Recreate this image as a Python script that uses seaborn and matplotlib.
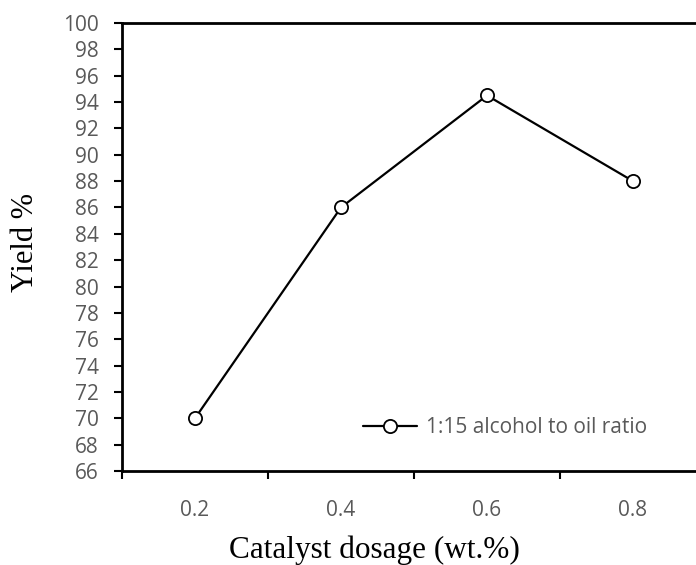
import matplotlib
matplotlib.use("Agg")
import matplotlib.pyplot as plt
import seaborn as sns
import pandas as pd
from matplotlib.ticker import FixedLocator

# data
dosage = [0.2, 0.4, 0.6, 0.8]
yield_pct = [70, 86, 94.5, 88]
series_name = "1:15 alcohol to oil ratio"
y_ticks = list(range(66, 101, 2))

df = pd.DataFrame({"dosage": dosage, "yield": yield_pct})

sns.set_theme(style="white")
plt.rcParams["font.family"] = ["Open Sans", "DejaVu Sans"]

fig = plt.figure(figsize=(6.96, 5.65), dpi=100)
# plot area runs a little past the right edge, like the cropped original
ax = fig.add_axes([122 / 696, 94 / 565, 584 / 696, 448 / 565])

sns.lineplot(data=df, x="dosage", y="yield", ax=ax, color="black",
             linewidth=1.6, marker="o", markersize=9.5,
             markerfacecolor="white", markeredgecolor="black",
             markeredgewidth=1.3, label=series_name)

ax.set_xlim(0.1, 0.9)
ax.set_ylim(66, 100)
ax.set_yticks(y_ticks)
ax.set_xticks(dosage)
ax.set_xticklabels([f"{d:.1f}" for d in dosage])
ax.xaxis.set_minor_locator(FixedLocator([0.1, 0.3, 0.5, 0.7, 0.9]))

grey = "#595959"
ax.tick_params(axis="x", which="major", length=0, pad=21, labelsize=15, labelcolor=grey)
ax.tick_params(axis="x", which="minor", bottom=True, length=6, width=1.5, color="black")
ax.tick_params(axis="y", which="major", left=True, length=5.5, width=1.5,
               color="black", pad=11, labelsize=15, labelcolor=grey)

for side in ["left", "bottom", "top", "right"]:
    ax.spines[side].set_color("black")
    ax.spines[side].set_linewidth(2)

ax.set_xlabel("Catalyst dosage (wt.%)", fontsize=22.5, family="Liberation Serif",
              color="black", va="center")
ax.xaxis.set_label_coords(0.4315, -0.176)
ax.set_ylabel("Yield %", fontsize=22, family="Liberation Serif",
              color="black", va="center")
ax.yaxis.set_label_coords(-0.166, 0.509)

leg = ax.legend(loc="center left", bbox_to_anchor=(0.4127, 0.096), frameon=False,
                fontsize=15, handlelength=2.6, handletextpad=0.4,
                borderpad=0, borderaxespad=0)
for t in leg.get_texts():
    t.set_color(grey)

fig.savefig("out.png", dpi=100)
